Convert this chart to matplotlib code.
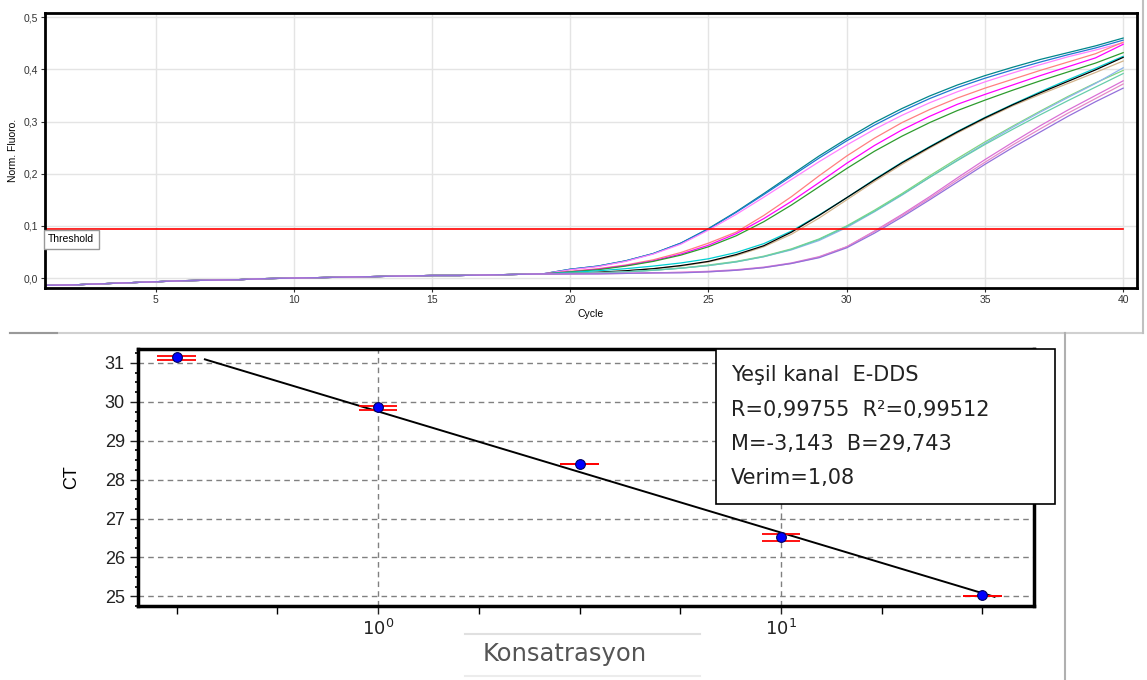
import numpy as np
import matplotlib.pyplot as plt
from matplotlib.lines import Line2D
from matplotlib.patches import Rectangle

W, H = 1147, 680

# ---- top panel: amplification curves ----
cycles = np.arange(1, 41)
baseline = [-0.014, -0.013, -0.011, -0.009, -0.007, -0.005, -0.004, -0.003, -0.001, 0.000,
            0.001, 0.002, 0.003, 0.004, 0.005, 0.005, 0.006, 0.007, 0.008]

# cycles 20..40 for each well
late_fluoro = {
    "#00868B": [0.017, 0.023, 0.033, 0.047, 0.067, 0.095, 0.127, 0.162, 0.198, 0.234, 0.267,
                0.298, 0.325, 0.349, 0.370, 0.388, 0.404, 0.419, 0.432, 0.445, 0.460],
    "#1F78D0": [0.017, 0.023, 0.033, 0.047, 0.067, 0.094, 0.126, 0.160, 0.195, 0.230, 0.263,
                0.293, 0.320, 0.344, 0.365, 0.383, 0.399, 0.414, 0.428, 0.441, 0.456],
    "#FF80FF": [0.016, 0.022, 0.032, 0.046, 0.065, 0.092, 0.122, 0.155, 0.189, 0.223, 0.255,
                0.285, 0.312, 0.336, 0.357, 0.376, 0.393, 0.409, 0.424, 0.437, 0.451],
    "#FF8080": [0.013, 0.018, 0.025, 0.035, 0.049, 0.067, 0.088, 0.120, 0.156, 0.196, 0.234,
                0.268, 0.298, 0.323, 0.345, 0.364, 0.381, 0.398, 0.414, 0.430, 0.452],
    "#FF00FF": [0.012, 0.017, 0.024, 0.033, 0.046, 0.063, 0.085, 0.114, 0.147, 0.183, 0.220,
                0.254, 0.284, 0.310, 0.333, 0.352, 0.370, 0.388, 0.405, 0.422, 0.448],
    "#2E9B2E": [0.012, 0.016, 0.023, 0.032, 0.044, 0.060, 0.081, 0.108, 0.140, 0.175, 0.210,
                0.243, 0.272, 0.298, 0.321, 0.341, 0.360, 0.378, 0.395, 0.412, 0.432],
    "#D2B48C": [0.009, 0.011, 0.014, 0.018, 0.023, 0.031, 0.043, 0.060, 0.084, 0.115, 0.150,
                0.185, 0.218, 0.249, 0.278, 0.305, 0.330, 0.352, 0.373, 0.394, 0.416],
    "#00CED1": [0.011, 0.014, 0.018, 0.023, 0.029, 0.037, 0.049, 0.066, 0.090, 0.121, 0.154,
                0.189, 0.222, 0.252, 0.281, 0.308, 0.333, 0.357, 0.380, 0.402, 0.425],
    "#000000": [0.009, 0.011, 0.014, 0.018, 0.024, 0.032, 0.045, 0.062, 0.088, 0.120, 0.154,
                0.188, 0.221, 0.251, 0.280, 0.307, 0.332, 0.355, 0.377, 0.399, 0.423],
    "#7FD87F": [0.009, 0.010, 0.012, 0.015, 0.019, 0.025, 0.032, 0.042, 0.056, 0.075, 0.100,
                0.130, 0.162, 0.196, 0.229, 0.261, 0.291, 0.320, 0.348, 0.374, 0.398],
    "#8DB4EC": [0.009, 0.010, 0.012, 0.015, 0.019, 0.024, 0.031, 0.041, 0.054, 0.072, 0.097,
                0.127, 0.159, 0.193, 0.226, 0.258, 0.289, 0.318, 0.346, 0.373, 0.403],
    "#66CDAA": [0.009, 0.010, 0.012, 0.015, 0.019, 0.024, 0.031, 0.041, 0.055, 0.074, 0.099,
                0.128, 0.160, 0.193, 0.225, 0.256, 0.285, 0.313, 0.340, 0.366, 0.392],
    "#DA70D6": [0.008, 0.009, 0.009, 0.010, 0.011, 0.013, 0.016, 0.021, 0.029, 0.041, 0.060,
                0.090, 0.122, 0.156, 0.192, 0.227, 0.260, 0.292, 0.322, 0.350, 0.378],
    "#E589C8": [0.008, 0.008, 0.009, 0.010, 0.011, 0.012, 0.015, 0.020, 0.028, 0.040, 0.060,
                0.089, 0.120, 0.153, 0.188, 0.222, 0.255, 0.286, 0.316, 0.344, 0.372],
    "#9370DB": [0.008, 0.008, 0.009, 0.010, 0.010, 0.012, 0.015, 0.020, 0.028, 0.039, 0.058,
                0.086, 0.117, 0.150, 0.184, 0.218, 0.250, 0.280, 0.310, 0.338, 0.364],
}
threshold = 0.095
fluoro_ticks = [0.0, 0.1, 0.2, 0.3, 0.4, 0.5]
fluoro_labels = ["0,0", "0,1", "0,2", "0,3", "0,4", "0,5"]
cycle_ticks = [5, 10, 15, 20, 25, 30, 35, 40]

# ---- bottom panel: standard curve ----
log_conc = np.array([-0.5, 0.0, 0.5, 1.0, 1.5])
ct_mean = np.array([31.15, 29.87, 28.40, 26.53, 25.03])
ct_reps = [[31.19, 31.08], [29.90, 29.80], [28.40, 28.39], [26.61, 26.43], [25.01, 25.01]]
ct_ticks = [25, 26, 27, 28, 29, 30, 31]
info_lines = ["Yeşil kanal  E-DDS", "R=0,99755  R²=0,99512", "M=-3,143  B=29,743", "Verim=1,08"]


def box(l, t, r, b):
    return [l / W, 1 - b / H, (r - l) / W, (b - t) / H]


fig = plt.figure(figsize=(W / 100, H / 100), dpi=100)
plt.rcParams['font.family'] = ['Liberation Sans', 'DejaVu Sans']

ax1 = fig.add_axes(box(45, 13, 1137, 288))
for col, vals in late_fluoro.items():
    ax1.plot(cycles, baseline + vals, color=col, lw=0.9)
ax1.axhline(threshold, xmin=0, xmax=(40 - 1) / (40.5 - 1), color="red", lw=1.2)
ax1.set_xlim(1, 40.5)
ax1.set_ylim(-0.019, 0.508)
ax1.set_xticks(cycle_ticks)
ax1.set_yticks(fluoro_ticks)
ax1.set_yticklabels(fluoro_labels)
ax1.grid(True, color="#e4e4e4", lw=1)
ax1.set_axisbelow(True)
ax1.tick_params(labelsize=7.5, length=3, width=0.8, pad=2, colors="#333333")
for s in ax1.spines.values():
    s.set_linewidth(2)
ax1.set_xlabel("Cycle", fontsize=7.5, labelpad=3)
ax1.set_ylabel("Norm. Fluoro.", fontsize=7.5, labelpad=4)
ax1.text(1.12, threshold - 0.011, "Threshold", fontsize=7.5, va="top", ha="left",
         bbox=dict(boxstyle="square,pad=0.45", fc="white", ec="#999999", lw=1))

ax2 = fig.add_axes(box(138, 349, 1034, 606))
ax2.set_xlim(-0.596, 1.628)
ax2.set_ylim(24.8, 31.36)
ax2.set_yticks(ct_ticks)
ax2.set_yticks(np.arange(24.75, 31.4, 0.25), minor=True)
ax2.set_xticks([0, 1])
ax2.set_xticklabels(["$10^0$", "$10^1$"])
ax2.set_xticks(np.arange(-0.5, 1.6, 0.25), minor=True)
ax2.grid(True, which="major", color="#808080", ls=(0, (4, 3)), lw=1)
ax2.tick_params(labelsize=13, length=6, width=1, colors="#222222")
ax2.tick_params(axis="y", which="minor", length=2, width=1.2)
ax2.tick_params(axis="x", which="minor", length=6, width=1)
for s in ax2.spines.values():
    s.set_linewidth(2.5)
fit = np.polyfit(log_conc, ct_mean, 1)
xfit = np.linspace(log_conc[0] + 0.07, log_conc[-1] + 0.03, 50)
ax2.plot(xfit, np.polyval(fit, xfit), color="black", lw=1.4)
for xc, reps in zip(log_conc, ct_reps):
    ax2.hlines(reps, xc - 0.048, xc + 0.048, color="red", lw=1.3)
ax2.plot(log_conc, ct_mean, "o", ms=7, mfc="#0000ff", mec="#000060", mew=0.8)
ax2.set_ylabel("CT", fontsize=13, labelpad=18)

# legend-like info box
fig.patches.append(Rectangle((716 / W, 1 - 504 / H), (1055 - 716) / W, (504 - 349) / H,
                             transform=fig.transFigure, fc="white", ec="black", lw=1.2))
for i, line in enumerate(info_lines):
    fig.text(731 / W, 1 - (375 + 34.5 * i) / H, line, fontsize=15, va="center",
             family="DejaVu Sans", color="#222222")

# axis title box for concentration
fig.text(483 / W, 1 - 654 / H, "Konsatrasyon", fontsize=17.5, va="center", color="#555555",
         family="DejaVu Sans")
fig.add_artist(Line2D([465 / W, 700 / W], [1 - 634 / H] * 2, color="#e0e0e0", lw=1.5))
fig.add_artist(Line2D([465 / W, 700 / W], [1 - 676 / H] * 2, color="#ececec", lw=1.5))

# panel frames
fig.add_artist(Line2D([10 / W, 1143 / W], [1 - 333 / H] * 2, color="#d0d0d0", lw=1.5))
fig.add_artist(Line2D([10 / W, 57 / W], [1 - 333 / H] * 2, color="#999999", lw=1.5))
fig.add_artist(Line2D([1143 / W] * 2, [1, 1 - 333 / H], color="#c0c0c0", lw=1.5))
fig.add_artist(Line2D([1065 / W] * 2, [1 - 333 / H, 0], color="#b0b0b0", lw=1.5))

fig.savefig("out.png", dpi=100)
